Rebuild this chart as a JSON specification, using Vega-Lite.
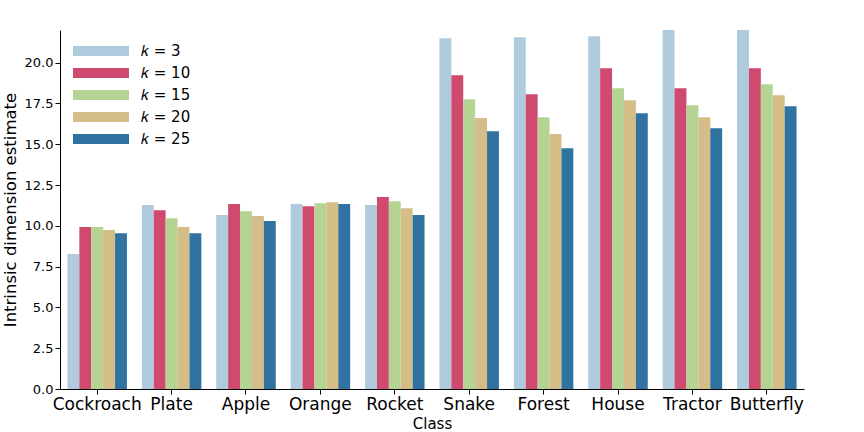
{
  "$schema": "https://vega.github.io/schema/vega-lite/v6.json",
  "width": 744,
  "height": 359,
  "autosize": {"type": "none"},
  "padding": {"left": 60, "top": 30, "right": 60, "bottom": 43},
  "config": {
    "view": {"stroke": null},
    "font": "DejaVu Sans",
    "axis": {"grid": false, "domainColor": "#000000", "tickColor": "#000000", "labelColor": "#000000", "titleColor": "#000000", "titleFontWeight": "normal", "labelFont": "DejaVu Sans", "titleFont": "DejaVu Sans", "tickSize": 5, "domainWidth": 1, "tickWidth": 1}
  },
  "data": {
    "values": [
      {"cls": "Cockroach", "k": 3, "v": 8.27}, {"cls": "Cockroach", "k": 10, "v": 9.92}, {"cls": "Cockroach", "k": 15, "v": 9.92}, {"cls": "Cockroach", "k": 20, "v": 9.74}, {"cls": "Cockroach", "k": 25, "v": 9.55},
      {"cls": "Plate", "k": 3, "v": 11.27}, {"cls": "Plate", "k": 10, "v": 10.96}, {"cls": "Plate", "k": 15, "v": 10.47}, {"cls": "Plate", "k": 20, "v": 9.92}, {"cls": "Plate", "k": 25, "v": 9.55},
      {"cls": "Apple", "k": 3, "v": 10.66}, {"cls": "Apple", "k": 10, "v": 11.33}, {"cls": "Apple", "k": 15, "v": 10.9}, {"cls": "Apple", "k": 20, "v": 10.6}, {"cls": "Apple", "k": 25, "v": 10.29},
      {"cls": "Orange", "k": 3, "v": 11.33}, {"cls": "Orange", "k": 10, "v": 11.2}, {"cls": "Orange", "k": 15, "v": 11.39}, {"cls": "Orange", "k": 20, "v": 11.45}, {"cls": "Orange", "k": 25, "v": 11.33},
      {"cls": "Rocket", "k": 3, "v": 11.27}, {"cls": "Rocket", "k": 10, "v": 11.76}, {"cls": "Rocket", "k": 15, "v": 11.51}, {"cls": "Rocket", "k": 20, "v": 11.08}, {"cls": "Rocket", "k": 25, "v": 10.66},
      {"cls": "Snake", "k": 3, "v": 21.5}, {"cls": "Snake", "k": 10, "v": 19.23}, {"cls": "Snake", "k": 15, "v": 17.76}, {"cls": "Snake", "k": 20, "v": 16.6}, {"cls": "Snake", "k": 25, "v": 15.8},
      {"cls": "Forest", "k": 3, "v": 21.56}, {"cls": "Forest", "k": 10, "v": 18.06}, {"cls": "Forest", "k": 15, "v": 16.66}, {"cls": "Forest", "k": 20, "v": 15.62}, {"cls": "Forest", "k": 25, "v": 14.76},
      {"cls": "House", "k": 3, "v": 21.62}, {"cls": "House", "k": 10, "v": 19.66}, {"cls": "House", "k": 15, "v": 18.43}, {"cls": "House", "k": 20, "v": 17.7}, {"cls": "House", "k": 25, "v": 16.9},
      {"cls": "Tractor", "k": 3, "v": 22.6}, {"cls": "Tractor", "k": 10, "v": 18.43}, {"cls": "Tractor", "k": 15, "v": 17.39}, {"cls": "Tractor", "k": 20, "v": 16.66}, {"cls": "Tractor", "k": 25, "v": 15.98},
      {"cls": "Butterfly", "k": 3, "v": 22.8}, {"cls": "Butterfly", "k": 10, "v": 19.66}, {"cls": "Butterfly", "k": 15, "v": 18.68}, {"cls": "Butterfly", "k": 20, "v": 18.0}, {"cls": "Butterfly", "k": 25, "v": 17.33}
    ]
  },
  "mark": {"type": "bar", "clip": true},
  "encoding": {
    "x": {
      "field": "cls", "type": "nominal",
      "sort": ["Cockroach", "Plate", "Apple", "Orange", "Rocket", "Snake", "Forest", "House", "Tractor", "Butterfly"],
      "scale": {"paddingInner": 0.2, "paddingOuter": 0.1},
      "axis": {"title": "Class", "labelAngle": 0, "labelFontSize": 17, "titleFontSize": 15, "titlePadding": 4, "labelPadding": 2}
    },
    "xOffset": {"field": "k", "type": "nominal", "scale": {"domain": [3, 10, 15, 20, 25], "paddingInner": 0, "paddingOuter": 0}},
    "y": {
      "field": "v", "type": "quantitative",
      "scale": {"domain": [0, 22], "nice": false, "zero": true},
      "axis": {"title": "Intrinsic dimension estimate", "values": [0, 2.5, 5, 7.5, 10, 12.5, 15, 17.5, 20], "format": ".1f", "labelFontSize": 13, "titleFontSize": 16.5, "titlePadding": 6}
    },
    "color": {
      "field": "k", "type": "nominal",
      "scale": {"domain": [3, 10, 15, 20, 25], "range": ["#afcbdd", "#d0496e", "#b5d493", "#d4bd87", "#3073a1"]},
      "legend": {
        "title": null, "orient": "none", "legendX": 27, "legendY": 7,
        "labelExpr": "'𝑘 = ' + datum.label",
        "symbolType": "M-2,-0.36L2,-0.36L2,0.36L-2,0.36Z",
        "symbolSize": 784, "symbolStrokeWidth": 0, "symbolOpacity": 1,
        "labelFontSize": 15, "labelFont": "DejaVu Sans", "labelColor": "#000000",
        "rowPadding": -5, "labelOffset": 26, "padding": 0
      }
    }
  }
}
